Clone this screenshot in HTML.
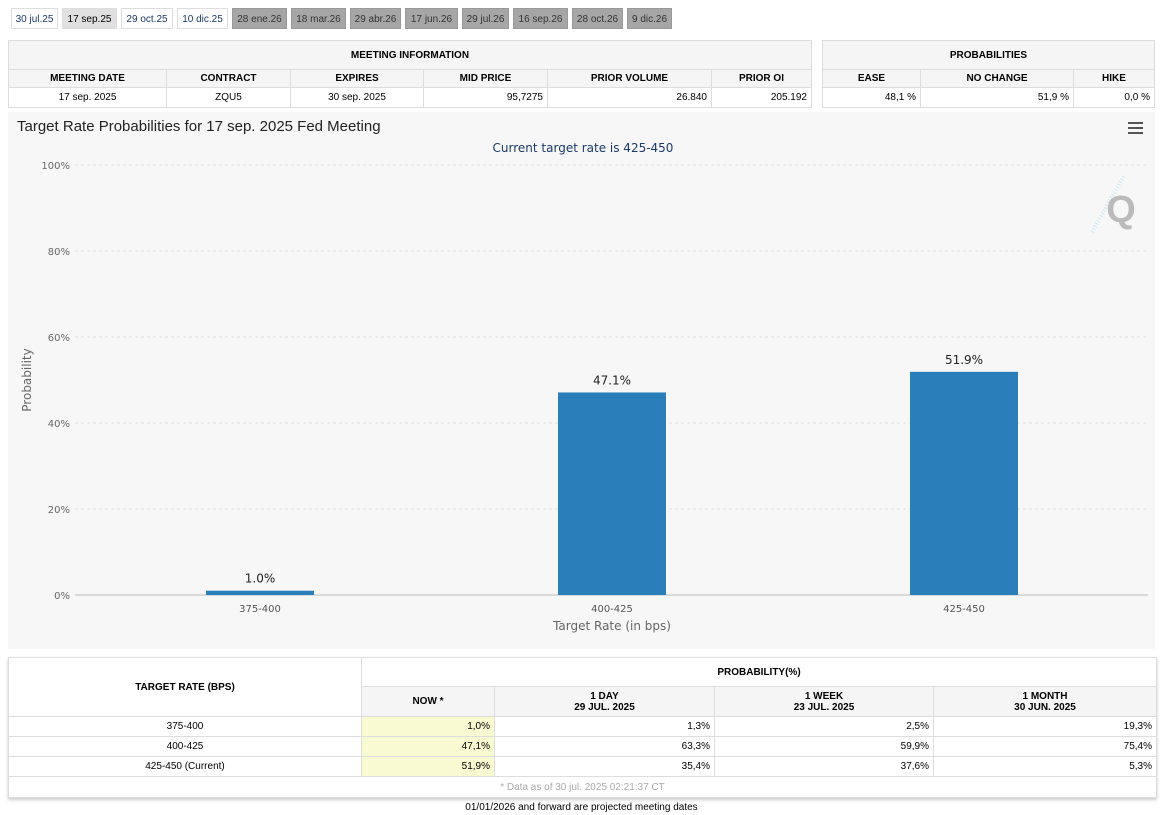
<!DOCTYPE html>
<html><head><meta charset="utf-8"><style>
body{margin:0;width:1163px;height:815px;background:#fff;font-family:"Liberation Sans",Arial,sans-serif;position:relative;overflow:hidden;color:#000}
.tab{position:absolute;top:8px;height:21px;line-height:21px;font-size:10px;text-align:center;border:1px solid #ddd;box-sizing:border-box;color:#1a3a6a;background:#fff}
.tab.sel{background:#e0e0e0;color:#000}
.tab.g{background:#a6a6a6;color:#333;border-color:#999}
table{position:absolute;border-collapse:collapse;font-size:10px}
td{border:1px solid #ddd;padding:0 4px;box-sizing:border-box}
.h{font-weight:bold;text-align:center;background:#f5f5f5}
.c{text-align:center}.r{text-align:right}
</style></head><body>
<div id="tabs"></div>

<table style="left:8px;top:40px;width:804px">
<tr style="height:29px"><td class="h" colspan="6">MEETING INFORMATION</td></tr>
<tr style="height:18px" class="h"><td class="h" style="width:158px">MEETING DATE</td><td class="h" style="width:124px">CONTRACT</td><td class="h" style="width:133px">EXPIRES</td><td class="h" style="width:124px">MID PRICE</td><td class="h" style="width:164px">PRIOR VOLUME</td><td class="h">PRIOR OI</td></tr>
<tr style="height:20px"><td class="c">17 sep. 2025</td><td class="c">ZQU5</td><td class="c">30 sep. 2025</td><td class="r">95,7275</td><td class="r">26.840</td><td class="r">205.192</td></tr>
</table>
<table style="left:822px;top:40px;width:333px">
<tr style="height:29px"><td class="h" colspan="3">PROBABILITIES</td></tr>
<tr style="height:18px"><td class="h" style="width:98px">EASE</td><td class="h" style="width:153px">NO CHANGE</td><td class="h">HIKE</td></tr>
<tr style="height:20px"><td class="r">48,1 %</td><td class="r">51,9 %</td><td class="r">0,0 %</td></tr>
</table>

<svg id="chart" style="position:absolute;left:0;top:0" width="1163" height="815">
<rect x="8" y="112" width="1147" height="537" fill="#f7f7f7"/>
<text x="17" y="131" font-size="15" fill="#222" font-family="Liberation Sans">Target Rate Probabilities for 17 sep. 2025 Fed Meeting</text>
<text x="583" y="152" font-size="12" fill="#1a3a6a" text-anchor="middle" font-family="DejaVu Sans">Current target rate is 425-450</text>
<g><rect x="1128" y="122" width="15" height="2" fill="#555"/><rect x="1128" y="127" width="15" height="2" fill="#555"/><rect x="1128" y="132" width="15" height="2" fill="#555"/></g>
<g>
<line x1="1092" y1="232" x2="1124" y2="176" stroke="#cde8f5" stroke-width="4" stroke-dasharray="1,2"/>
<text x="1121" y="222" font-size="38" font-weight="bold" fill="#bbb" text-anchor="middle">Q</text></g>
<text transform="translate(31,380) rotate(-90)" font-size="12" fill="#666" text-anchor="middle" font-family="DejaVu Sans">Probability</text>
<text x="612" y="630" font-size="12" fill="#666" text-anchor="middle" font-family="DejaVu Sans">Target Rate (in bps)</text>
<g id="grid"></g><g id="bars"></g>
</svg>

<table style="left:8px;top:657px;width:1149px;box-shadow:0 2px 3px #ccc">
<tr style="height:29px"><td class="h" rowspan="2" style="width:353px;background:#fff">TARGET RATE (BPS)</td><td class="h" colspan="4" style="background:#fff">PROBABILITY(%)</td></tr>
<tr style="height:30px"><td class="h" style="width:133px">NOW *</td><td class="h" style="width:220px">1 DAY<br>29 JUL. 2025</td><td class="h" style="width:219px">1 WEEK<br>23 JUL. 2025</td><td class="h">1 MONTH<br>30 JUN. 2025</td></tr>
<tr style="height:20px"><td class="c">375-400</td><td class="r" style="background:#fafad2">1,0%</td><td class="r">1,3%</td><td class="r">2,5%</td><td class="r">19,3%</td></tr>
<tr style="height:20px"><td class="c">400-425</td><td class="r" style="background:#fafad2">47,1%</td><td class="r">63,3%</td><td class="r">59,9%</td><td class="r">75,4%</td></tr>
<tr style="height:20px"><td class="c">425-450 (Current)</td><td class="r" style="background:#fafad2">51,9%</td><td class="r">35,4%</td><td class="r">37,6%</td><td class="r">5,3%</td></tr>
<tr style="height:21px"><td colspan="5" class="c" style="color:#aaa">* Data as of 30 jul. 2025 02:21:37 CT</td></tr>
</table>
<div style="position:absolute;left:0;width:1163px;top:802px;text-align:center;font-size:10px">01/01/2026 and forward are projected meeting dates</div>

<script>
const tabLabels=["30 jul.25","17 sep.25","29 oct.25","10 dic.25","28 ene.26","18 mar.26","29 abr.26","17 jun.26","29 jul.26","16 sep.26","28 oct.26","9 dic.26"];
const tabX=[11,62,121,177,232,291,350,405,462,513,572,627];
const tabW=[47,55,52,51,55,55,51,53,47,55,51,45];
const tc=document.getElementById('tabs');
tabLabels.forEach((t,i)=>{const d=document.createElement('div');


d.className='tab'+(i==1?' sel':i>3?' g':'');d.style.left=tabX[i]+'px';d.style.width=tabW[i]+'px';d.textContent=t;tc.appendChild(d);});

const categories=["375-400","400-425","425-450"];
const values=[1.0,47.1,51.9];
const yTicks=[0,20,40,60,80,100];
const NS='http://www.w3.org/2000/svg';
const ax0=75,ax1=1148,x0=84,x1=1140,yb=595,yt=165;
const y=v=>yb-(v/100)*(yb-yt);
const band=(x1-x0)/categories.length;
const xc=i=>x0+band*(i+0.5);
function el(tag,a,p){const e=document.createElementNS(NS,tag);for(const k in a)e.setAttribute(k,a[k]);p.appendChild(e);return e;}
const g=document.getElementById('grid'),b=document.getElementById('bars');
yTicks.forEach(t=>{
 const l=el('line',{x1:ax0,x2:ax1,y1:y(t),y2:y(t),stroke:t?'#ddd':'#bbb','stroke-dasharray':t?'3,3':''},g);
 
 
 const tx=el('text',{x:70,y:y(t)+4,'font-size':10,fill:'#666','text-anchor':'end','font-family':'DejaVu Sans'},g);
 
 
 tx.textContent=t+'%';
});
categories.forEach((c,i)=>{
 const r=el('rect',{x:xc(i)-54,y:y(values[i]),width:108,height:yb-y(values[i]),fill:'#2a7fba'},b);
 
 
 const v=el('text',{x:xc(i),y:y(values[i])-8,'font-size':12,fill:'#222','text-anchor':'middle','font-family':'DejaVu Sans'},b);
 
 
 v.textContent=values[i].toFixed(1)+'%';
 const xl=el('text',{x:xc(i),y:612,'font-size':10,fill:'#555','text-anchor':'middle','font-family':'DejaVu Sans'},b);
 
 
 xl.textContent=c;
});
</script>
</body></html>
